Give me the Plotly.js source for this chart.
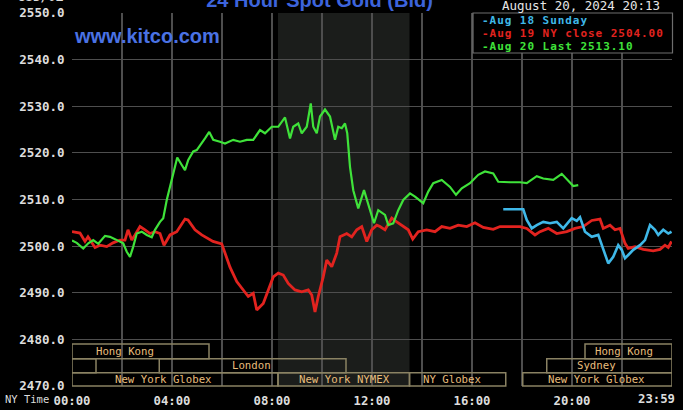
<!DOCTYPE html>
<html><head><meta charset="utf-8">
<script src="https://cdn.plot.ly/plotly-3.0.1.min.js"></script>
<style>html,body{margin:0;padding:0;background:#000;}#chart{width:683px;height:410px;}</style>
</head><body><div id="chart"></div>
<script>
// ---- data (hours in NY time, price USD/oz) ----
const seriesNames = ["Aug 18 Sunday", "Aug 19 NY close 2504.00", "Aug 20 Last 2513.10"];
const seriesColors = ["#3fb8e8", "#e2231f", "#3fe23a"];

const sunT = [17.25,18.05,18.19,18.39,18.59,18.85,19.12,19.39,19.65,19.99,20.19,20.32,20.52,20.79,21.05,21.25,21.45,21.65,21.85,21.99,22.12,22.25,22.45,22.72,22.92,23.12,23.32,23.45,23.65,23.85,23.98];
const sunV = [2507.9,2507.9,2505.6,2503.8,2504.5,2505.2,2504.9,2505.2,2503.8,2506.0,2505.4,2506.2,2503.1,2502.0,2502.4,2499.5,2496.3,2497.7,2500.2,2499.2,2497.4,2498.1,2499.2,2500.2,2501.3,2504.5,2503.5,2502.4,2503.5,2502.7,2503.1];

const aug19T = [0,0.32,0.52,0.64,0.92,1.12,1.39,1.64,1.92,2.12,2.24,2.39,2.52,2.72,2.92,3.12,3.32,3.52,3.68,3.92,4.19,4.52,4.64,4.92,5.19,5.39,5.64,5.99,6.12,6.32,6.59,6.85,7.05,7.25,7.39,7.65,7.85,8.05,8.25,8.45,8.65,8.92,9.19,9.45,9.59,9.72,9.85,10.05,10.19,10.39,10.59,10.72,10.99,11.19,11.39,11.59,11.79,11.99,12.19,12.32,12.52,12.79,12.99,13.25,13.45,13.63,13.85,14.19,14.52,14.79,15.12,15.45,15.79,16.12,16.45,16.85,17.12,17.52,17.92,18.19,18.52,18.72,19.05,19.39,19.79,20.12,20.45,20.79,21.12,21.25,21.52,21.72,21.92,22.12,22.25,22.52,22.85,23.25,23.52,23.72,23.85,23.98];
const aug19V = [2503.1,2502.8,2501.0,2502.0,2499.7,2500.2,2499.9,2500.7,2501.3,2501.3,2503.5,2501.3,2502.4,2504.2,2503.5,2502.7,2503.1,2502.7,2500.2,2502.4,2503.1,2505.8,2505.6,2503.5,2502.4,2501.7,2501.0,2500.5,2498.5,2495.5,2492.4,2490.6,2489.2,2489.9,2486.3,2487.7,2490.6,2493.4,2494.2,2493.8,2492.0,2490.6,2490.2,2490.6,2489.5,2485.9,2489.2,2493.4,2497.0,2495.6,2498.5,2502.0,2502.7,2502.0,2503.5,2504.2,2501.0,2503.5,2504.5,2504.2,2503.5,2506.0,2505.2,2504.2,2503.5,2501.5,2503.1,2503.5,2503.1,2504.2,2503.8,2504.5,2504.2,2505.0,2504.0,2503.6,2504.2,2504.2,2504.2,2503.8,2502.4,2503.1,2503.8,2502.7,2503.1,2503.8,2504.2,2505.5,2505.8,2503.8,2504.5,2503.5,2503.8,2500.6,2499.5,2499.9,2499.3,2499.0,2499.3,2500.2,2499.7,2501.0];

const aug20T = [0,0.19,0.45,0.65,0.85,1.05,1.32,1.52,1.72,1.92,2.05,2.19,2.32,2.45,2.59,2.79,2.99,3.19,3.32,3.52,3.65,3.79,3.92,4.05,4.21,4.39,4.52,4.65,4.85,4.99,5.12,5.32,5.49,5.65,5.92,6.12,6.45,6.72,6.99,7.25,7.52,7.72,7.99,8.25,8.52,8.72,8.85,9.05,9.19,9.39,9.55,9.65,9.79,9.92,10.12,10.32,10.52,10.65,10.79,10.92,11.01,11.12,11.25,11.45,11.68,11.85,12.08,12.25,12.52,12.65,12.85,13.05,13.25,13.52,13.72,14.05,14.25,14.45,14.79,15.12,15.36,15.59,15.92,16.25,16.52,16.85,17.05,17.52,17.92,18.19,18.59,18.85,19.25,19.59,19.79,20.05,20.25];
const aug20V = [2501.2,2500.7,2499.5,2500.6,2501.3,2500.5,2502.2,2502.0,2501.5,2501.0,2500.6,2498.8,2497.7,2499.9,2502.7,2503.1,2502.4,2501.9,2503.5,2505.2,2506.0,2509.9,2512.7,2515.6,2519.0,2517.4,2516.3,2518.5,2520.3,2520.6,2521.7,2523.1,2524.5,2522.8,2522.4,2522.0,2522.8,2522.4,2522.8,2522.8,2524.9,2524.2,2525.6,2525.6,2527.6,2523.1,2525.6,2526.3,2524.2,2525.6,2530.6,2525.6,2524.2,2527.8,2529.3,2527.8,2522.8,2525.6,2525.3,2526.3,2524.2,2517.0,2512.0,2508.1,2512.0,2509.2,2504.9,2507.7,2506.7,2504.5,2504.9,2507.7,2509.9,2511.3,2510.6,2509.2,2511.7,2513.5,2514.2,2512.7,2511.0,2512.4,2513.5,2515.3,2516.0,2515.6,2513.8,2513.7,2513.7,2513.5,2515.0,2514.5,2514.2,2515.5,2514.3,2512.9,2513.1];

const yTicks = [2470,2480,2490,2500,2510,2520,2530,2540,2550];
const nyTickVals = [0,2,4,6,8,10,12,14,16,18,20,22,24];
const nyTickText = ["00:00","","04:00","","08:00","","12:00","","16:00","","20:00","",""];
const gmtTickText = ["04:00","","08:00","","12:00","","16:00","","20:00","","00:00","",""];
const lastNY = "23:59", lastGMT = "03:59";

// trading sessions: name, start hour, end hour, row (0 = top), label hour
const sessName  = ["Hong Kong","Hong Kong","","London","Sydney","New York Globex","New York NYMEX","NY Globex","New York Globex"];
const sessStart = [0,20.52,0,3.49,18.99,0,8.24,13.5,18.03];
const sessEnd   = [5.48,24,0.96,10.96,24,8.24,13.5,17.35,24];
const sessRow   = [0,0,1,1,1,2,2,2,2];
const sessLabel = [2.12,22.08,0,7.16,20.99,3.64,10.88,15.2,20.96];
const nymexShade = [8.24, 13.5];

// ---- build ----
const mono = "DejaVu Sans Mono, Liberation Mono, monospace";
const traces = [
  {x: aug19T, y: aug19V, name: seriesNames[1], type: "scatter", mode: "lines", line: {color: seriesColors[1], width: 2.8}},
  {x: aug20T, y: aug20V, name: seriesNames[2], type: "scatter", mode: "lines", line: {color: seriesColors[2], width: 2.2}},
  {x: sunT, y: sunV, name: seriesNames[0], type: "scatter", mode: "lines", line: {color: seriesColors[0], width: 2.6}}
];

const rowTop = [0.1126, 0.0732, 0.0357];
const rowBot = [0.0732, 0.0357, 0.0];
const rowMid = [0.092, 0.0563, 0.018];

const shapes = [
  {type: "rect", xref: "x", yref: "paper", x0: nymexShade[0], x1: nymexShade[1], y0: 0, y1: 1,
   fillcolor: "#1b1d1b", line: {width: 0}, layer: "below"}
];
const annotations = [];
for (let i = 0; i < sessName.length; i++) {
  shapes.push({type: "rect", xref: "x", yref: "paper", x0: sessStart[i], x1: sessEnd[i],
    y0: rowBot[sessRow[i]], y1: rowTop[sessRow[i]], fillcolor: "rgba(0,0,0,0)",
    line: {color: "#8a8263", width: 1.5}, layer: "above"});
  if (sessName[i]) annotations.push({xref: "x", yref: "paper", x: sessLabel[i], y: rowMid[sessRow[i]],
    text: sessName[i], showarrow: false, xanchor: "center", yanchor: "middle",
    font: {family: mono, size: 10.7, color: "#e8bd7c"}});
}
// legend box
shapes.push({type: "rect", xref: "paper", yref: "paper", x0: (473-72)/600, x1: (672.5-72)/600,
  y0: (386-53)/373, y1: 1, fillcolor: "#000", line: {color: "#6e6e6e", width: 1.2}, layer: "above"});
const legOrder = [0, 1, 2];
const legY = [-7.6, -20.6, -33.6];
legOrder.forEach((k, j) => annotations.push({xref: "paper", yref: "paper", x: (480-72)/600, y: 1, yshift: legY[j],
  text: "<span style=\"letter-spacing:0.95px\">-" + seriesNames[k] + "</span>", showarrow: false, xanchor: "left", yanchor: "middle",
  font: {family: mono, size: 11, color: seriesColors[k], weight: "bold"}}));

annotations.push(
  {xref: "paper", yref: "paper", x: 0, y: 1, xshift: -6, yshift: 17, text: "USD/OZ", showarrow: false,
   xanchor: "right", yanchor: "middle", font: {family: mono, size: 12.5, color: "#dddddd", weight: "bold"}},
  {xref: "paper", yref: "paper", x: 0, y: 1, xshift: 0, yshift: -23, text: "www.kitco.com", showarrow: false,
   xanchor: "left", yanchor: "middle", font: {family: "Liberation Sans, Arial, sans-serif", size: 20, color: "#4a72e4", weight: "bold"}},
  {xref: "paper", yref: "paper", x: (581-72)/600, y: 1, yshift: 8, text: "August 20, 2024 20:13", showarrow: false,
   xanchor: "center", yanchor: "middle", font: {family: mono, size: 12.5, color: "#e6e6e6"}},
  {xref: "paper", yref: "paper", x: (2.7-72)/600, y: 0, yshift: -13, text: "NY Time", showarrow: false,
   xanchor: "left", yanchor: "middle", font: {family: mono, size: 10.5, color: "#dddddd"}},
  {xref: "paper", yref: "paper", x: (2.7-72)/600, y: 0, yshift: -29, text: "GMT", showarrow: false,
   xanchor: "left", yanchor: "middle", font: {family: mono, size: 10.5, color: "#dddddd"}},
  {xref: "paper", yref: "paper", x: (677-72)/600, y: 0, yshift: -13, text: lastNY, showarrow: false,
   xanchor: "right", yanchor: "middle", font: {family: mono, size: 12.3, color: "#dddddd", weight: "bold"}},
  {xref: "paper", yref: "paper", x: (677-72)/600, y: 0, yshift: -29, text: lastGMT, showarrow: false,
   xanchor: "right", yanchor: "middle", font: {family: mono, size: 12.3, color: "#dddddd", weight: "bold"}}
);

const layout = {
  width: 683, height: 410,
  margin: {l: 72, r: 11, t: 13, b: 24, pad: 0},
  paper_bgcolor: "#000", plot_bgcolor: "#000",
  showlegend: false,
  title: {text: "24 Hour Spot Gold (Bid)", x: 319.5/683, xanchor: "center", y: 1, yanchor: "middle",
          font: {family: "Liberation Sans, Arial, sans-serif", size: 20, color: "#3d64dc", weight: "bold"}},
  xaxis: {range: [0, 24], tickmode: "array", tickvals: nyTickVals,
          ticktext: nyTickText.map((t, i) => t ? t + "<br>" + gmtTickText[i] : ""),
          showgrid: true, gridcolor: "#4e4e4e", gridwidth: 1.2, zeroline: false, showline: false,
          ticks: "outside", ticklen: 3, tickcolor: "rgba(0,0,0,0)",
          tickfont: {family: mono, size: 12.3, color: "#dddddd", weight: "bold"}, fixedrange: true},
  yaxis: {range: [2470, 2550], tickmode: "array", tickvals: yTicks, ticktext: yTicks.map(v => v.toFixed(1)),
          showgrid: true, gridcolor: "#4e4e4e", gridwidth: 1.2, zeroline: false, showline: false,
          ticks: "outside", ticklen: 4, tickcolor: "rgba(0,0,0,0)",
          tickfont: {family: mono, size: 12.5, color: "#dddddd", weight: "bold"}, fixedrange: true},
  shapes: shapes,
  annotations: annotations
};
Plotly.newPlot("chart", traces, layout, {staticPlot: true, displayModeBar: false});
</script></body></html>
